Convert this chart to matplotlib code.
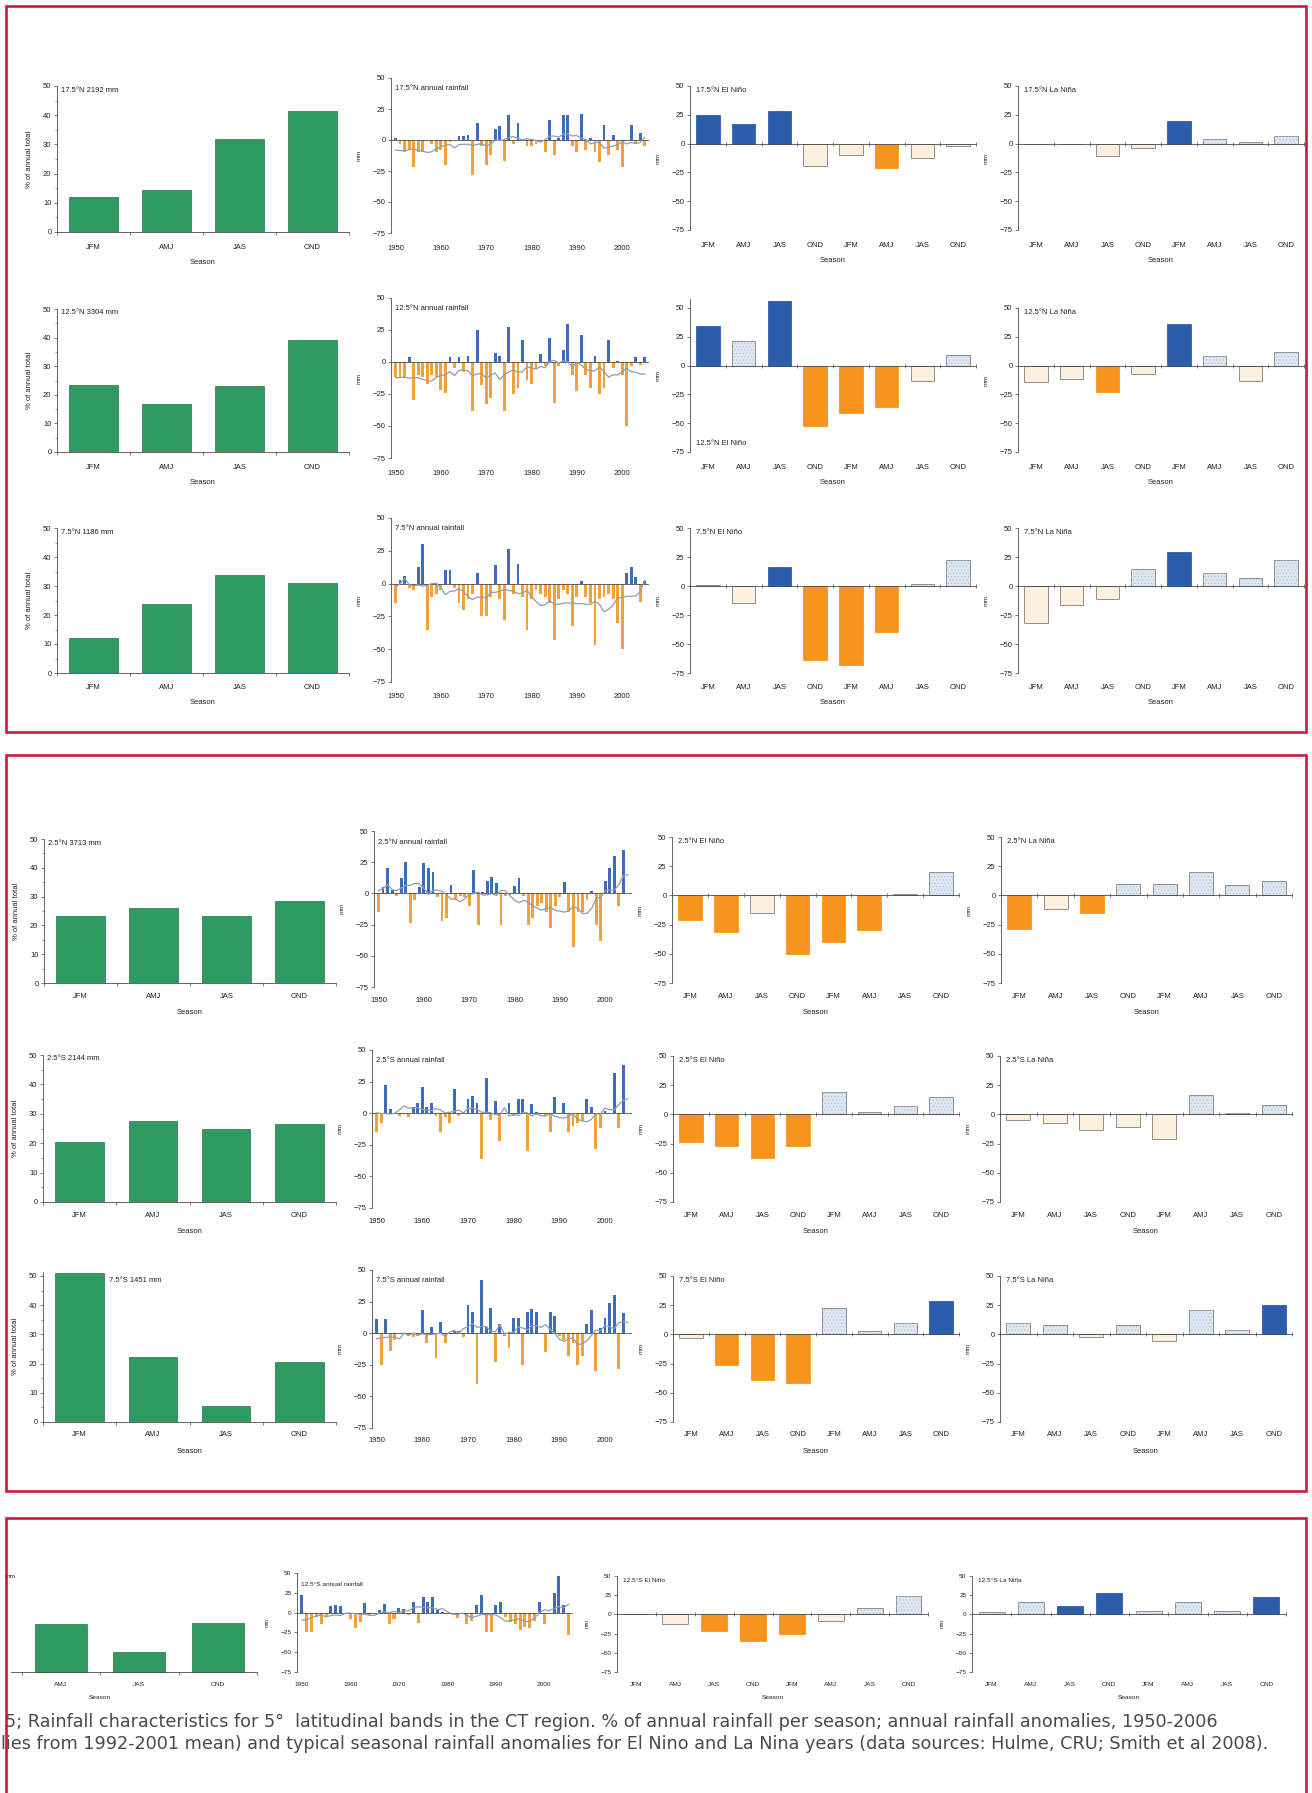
#!/usr/bin/env python
# -*- coding: utf-8 -*-
"""
Rainfall characteristics for 5 degree latitudinal bands
=======================================================
% of annual rainfall per season, annual anomalies 1950-2005 and
typical seasonal anomalies for El Nino / La Nina years.
"""

import numpy as np
import pandas as pd
import matplotlib
matplotlib.use('Agg')
import matplotlib.pyplot as plt
from matplotlib.patches import Rectangle

W, H = 1312, 1793  # output size in pixels

SEASONS = ['JFM', 'AMJ', 'JAS', 'OND']
SEASONS_2YR = SEASONS * 2
YEARS = np.arange(1950, 2006)
YEAR_TICKS = [1950, 1960, 1970, 1980, 1990, 2000]
BANDS = ['17.5°N', '12.5°N', '7.5°N', '2.5°N', '2.5°S', '7.5°S', '12.5°S']
TOTALS = ['2192 mm', '3304 mm', '1186 mm', '3713 mm', '2144 mm', '1451 mm', 'mm']

# % of annual total per season
pct_175N = [12, 14.5, 32, 41.5]
pct_125N = [23.5, 16.8, 23.2, 39]
pct_75N = [12, 23.8, 33.8, 31.2]
pct_25N = [23.3, 26.2, 23.3, 28.6]
pct_25S = [20.4, 27.4, 24.9, 26.4]
pct_75S = [51, 22.3, 5.4, 20.5]
pct_125S = [42, 24, 10, 24.7]

# annual rainfall anomalies (mm), 1950-2005
anom_175N = [2, -3, -10, -8, -22, -10, -10, 0, -3, -10,
             -8, -20, -2, 0, 3, 3, 4, -28, 14, -5,
             -20, -12, 9, 11, -17, 20, -3, 14, 1, -5,
             -5, -3, 0, -10, 16, -12, 2, 20, 20, -5,
             -10, 21, -8, 2, -10, -18, 12, -12, 4, -8,
             -22, 0, 12, -3, 6, -5]
anom_125N = [-12, -12, -12, 4, -30, -10, -12, -17, -10, -12,
             -22, -24, 4, -5, 4, -8, 5, -38, 25, -18,
             -33, -28, 7, 5, -38, 27, -25, -20, 17, -14,
             -17, -5, 6, -3, 19, -32, -3, 9, 30, -10,
             -23, 21, -10, -20, 5, -25, -20, 17, -5, 1,
             -10, -50, -3, 4, -2, 4]
anom_75N = [-15, 3, 6, -3, -5, 13, 30, -35, -10, -8,
            -5, 10, 10, -3, -15, -20, -12, -8, 8, -25,
            -25, -10, 14, -12, -28, 26, -8, 15, -10, -35,
            -12, -5, -8, -10, -15, -43, -12, -5, -8, -32,
            -10, 2, -10, -15, -47, -12, -10, -8, -12, -30,
            -50, 8, 13, 5, -14, 2]
anom_25N = [-15, 5, 20, 3, -2, 12, 25, -24, -5, 5,
            24, 20, 17, -3, -22, -20, 7, -5, -2, -3,
            -10, 19, -25, 1, 10, 13, 8, -25, -2, -1,
            6, 12, -2, -25, -20, -10, -8, -15, -28, -10,
            -3, 9, -15, -43, -15, -15, -5, 2, -25, -38,
            10, 20, 30, -10, 35, 0]
anom_25S = [-15, -8, 22, 3, -1, -2, -1, -3, 5, 8,
            21, 5, 8, -2, -15, -3, -8, 19, -2, -1,
            11, 14, 8, -36, 28, -5, 10, -22, -1, 8,
            -2, 11, 11, -30, 7, 1, -1, -2, -15, 13,
            -1, 8, -15, -10, -8, -6, 11, 5, -28, -12,
            2, 0, 32, -12, 38, 0]
anom_75S = [11, -25, 11, -14, -5, 0, -1, -2, -3, -2,
            18, -8, 5, -20, 9, -8, -1, 2, 2, -3,
            22, 17, -40, 42, 5, 20, -23, 7, -2, -12,
            12, 12, -25, 17, 19, 17, -1, -15, 17, 14,
            -2, -5, -18, -8, -25, -18, 7, 18, -30, 4,
            12, 24, 30, -28, 16, 0]
anom_125S = [22, -25, -25, -5, -15, -5, 8, 10, 8, 0,
             -8, -20, -12, 12, -3, 0, 3, 11, -15, -8,
             6, 5, -3, 14, -13, 20, 14, 20, 3, 1,
             -1, -3, -7, -2, -15, -10, 10, 22, -25, -25,
             10, 14, -5, -12, -15, -22, -18, -20, -10, 14,
             -15, 0, 25, 46, 10, -28]

# seasonal anomalies (mm) for El Nino / La Nina years (year 0 and year +1),
# *_sig: 1 = significant (solid bar), 0 = not significant (pale bar)
nino_175N = [25, 17, 28, -19.5, -10, -21, -12.8, -2]
nino_sig_175N = [1, 1, 1, 0, 0, 1, 0, 0]
nina_175N = [0, 0, -11, -4, 19.3, 4.3, 1.4, 6.5]
nina_sig_175N = [0, 0, 0, 0, 1, 0, 0, 0]

nino_125N = [34, 21, 56, -52, -41, -36, -13, 9.5]
nino_sig_125N = [1, 0, 1, 1, 1, 1, 0, 0]
nina_125N = [-14.5, -12, -23, -7, 36, 8, -13, 11.6]
nina_sig_125N = [0, 0, 1, 0, 1, 0, 0, 0]

nino_75N = [1, -15, 16.5, -64, -68, -40, 2, 22.4]
nino_sig_75N = [0, 0, 1, 1, 1, 1, 0, 0]
nina_75N = [-32, -16, -11, 14.5, 29, 11.6, 7, 22.4]
nina_sig_75N = [0, 0, 0, 0, 1, 0, 0, 0]

nino_25N = [-21, -31, -15, -50, -40, -30, 1.5, 20]
nino_sig_25N = [1, 1, 0, 1, 1, 1, 0, 0]
nina_25N = [-28.5, -12, -15, 10, 10, 20, 9, 12.6]
nina_sig_25N = [1, 0, 1, 0, 0, 0, 0, 0]

nino_25S = [-23.5, -27, -37, -27, 19, 2.4, 7.4, 14.7]
nino_sig_25S = [1, 1, 1, 1, 0, 0, 0, 0]
nina_25S = [-5, -7, -13.5, -11, -21, 16.8, 1, 8]
nina_sig_25S = [0, 0, 0, 0, 0, 0, 0, 0]

nino_75S = [-3.4, -26, -39, -42, 22.7, 2.8, 9.4, 28.4]
nino_sig_75S = [0, 1, 1, 1, 0, 0, 0, 1]
nina_75S = [9.4, 8, -2, 8, -5.7, 20.7, 3.4, 25]
nina_sig_75S = [0, 0, 0, 0, 0, 0, 0, 1]

nino_125S = [0, -13, -21, -34, -25, -8, 8, 24]
nino_sig_125S = [0, 0, 1, 1, 1, 0, 0, 0]
nina_125S = [3, 16, 11, 28, 5, 16, 5, 23]
nina_sig_125S = [0, 0, 1, 1, 0, 0, 0, 1]

# colours
GREEN = '#2E9960'
GREEN_EDGE = '#237548'
BLUE = '#2C5DAA'
ORANGE = '#F7941D'
LIGHT_BLUE = '#DDE7F3'
LIGHT_ORANGE = '#FDF0DC'
LIGHT_EDGE = '#7F7F7F'
ANN_BLUE = '#3D6DB6'
ANN_ORANGE = '#F2A13A'
SMOOTH = '#8E9DB2'
AXIS = '#4A4A4A'
RED = '#C41E3A'
TEXT = '#222222'

# panel boxes in pixels: (left, right, y of the 50 tick, y of the axis bottom)
LAYOUT = [
    dict(pct=(57, 349, 86, 232), ann=(391, 648, 78, 233), nino=(690, 976, 86, 230), nina=(1018, 1304, 86, 230), lab=16, sea=31, fs=1.0),
    dict(pct=(57, 349, 309, 452), ann=(391, 648, 298, 458), nino=(690, 976, 308, 452), nina=(1018, 1304, 308, 452), lab=16, sea=31, fs=1.0),
    dict(pct=(57, 349, 528, 673), ann=(391, 648, 518, 682), nino=(690, 976, 528, 673), nina=(1018, 1304, 528, 673), lab=15, sea=30, fs=1.0),
    dict(pct=(44, 336, 839, 983), ann=(374, 631, 831, 987), nino=(672, 959, 837, 983), nina=(1001, 1292, 837, 983), lab=14, sea=30, fs=1.0),
    dict(pct=(43, 336, 1055, 1202), ann=(372, 631, 1050, 1208), nino=(673, 959, 1056, 1202), nina=(1000, 1292, 1056, 1202), lab=14, sea=30, fs=1.0),
    dict(pct=(43, 336, 1276, 1422), ann=(372, 631, 1270, 1428), nino=(673, 959, 1276, 1422), nina=(1000, 1292, 1276, 1422), lab=13, sea=30, fs=1.0),
    dict(pct=(-57, 257, 1573, 1672), ann=(297, 572, 1573, 1672), nino=(617, 928, 1576, 1672), nina=(972, 1286, 1576, 1672), lab=13, sea=28, fs=0.85),
]

PX = 0.72  # points per pixel at dpi 100
FONT = 5.5
FRAMES = [(6, 6, 1306, 732), (6, 755, 1306, 1491), (6, 1518, 1306, 1810)]


def add_axes_px(fig, left, right, top, bottom):
    """Axes placed by pixel edges (origin top-left)"""
    return fig.add_axes([left / W, 1 - bottom / H, (right - left) / W, (bottom - top) / H])


def base_style(ax, fs):
    for s in ['top', 'right']:
        ax.spines[s].set_visible(False)
    for s in ['left', 'bottom']:
        ax.spines[s].set_color(AXIS)
        ax.spines[s].set_linewidth(0.6)
    ax.tick_params(axis='y', direction='out', length=2.5, width=0.5, color=AXIS,
                   labelsize=FONT * fs, labelcolor=TEXT, pad=1.5)
    ax.patch.set_alpha(0)


def panel_title(ax, text, dx_px, dy_px, fs, y=50):
    ax.annotate(text, xy=(0, y), xycoords=('axes fraction', 'data'),
                xytext=(dx_px * PX, -dy_px * PX), textcoords='offset points',
                ha='left', va='center', fontsize=FONT * fs, color=TEXT)


def bottom_labels(ax, ticks, labels, lay, xlabel=None):
    """Tick labels under the axes box, the zero line stays in the middle"""
    fs = lay['fs']
    half = FONT * fs / PX / 2
    sec = ax.secondary_xaxis('bottom')
    sec.set_xticks(ticks, labels)
    sec.tick_params(length=0, pad=(lay['lab'] - half) * PX, labelsize=FONT * fs, labelcolor=TEXT)
    sec.spines['bottom'].set_visible(False)
    if xlabel:
        sec.set_xlabel(xlabel, fontsize=FONT * fs, color=TEXT,
                       labelpad=(lay['sea'] - lay['lab'] - 2 * half) * PX)


def draw_pct(fig, lay, vals, text, title_dx=4, cut=False):
    l, r, y50, y0 = lay['pct']
    fs = lay['fs']
    ymax = max(50, max(vals) + 0.5)
    scale = (y0 - y50) / 50
    ax = add_axes_px(fig, l, r, y0 - ymax * scale, y0)
    base_style(ax, fs)
    x = np.arange(len(SEASONS))
    bars = ax.bar(x, vals, width=0.66, color=GREEN, edgecolor=GREEN_EDGE, linewidth=0.5, zorder=2)
    ax.set_xlim(-0.5, 3.5)
    ax.set_ylim(0, ymax)
    ax.set_yticks(range(0, 51, 10))
    ax.set_yticks(range(5, 50, 10), minor=True)
    ax.tick_params(axis='y', which='minor', length=1.5, width=0.4, color=AXIS)
    half = FONT * fs / PX / 2
    labels = list(SEASONS)
    if cut:
        labels[0] = ''  # JFM lies off the page
    ax.set_xticks(x, labels)
    ax.set_xticks(np.arange(5) - 0.5, minor=True)
    ax.tick_params(axis='x', which='major', length=0, pad=(lay['lab'] - half) * PX,
                   labelsize=FONT * fs, labelcolor=TEXT)
    ax.tick_params(axis='x', which='minor', length=2.5, width=0.5, color=AXIS, direction='out')
    ax.set_xlabel('Season', fontsize=FONT * fs, color=TEXT,
                  labelpad=(lay['sea'] - lay['lab'] - 2 * half) * PX)
    if cut:
        # this panel runs off the left edge of the page: keep it inside the frame
        ax.tick_params(axis='y', labelleft=False)
        x_in = (FRAMES[2][0] + 5) / W
        clip = Rectangle((x_in, 0), 1 - x_in, 1, transform=fig.transFigure)
        for b in bars:
            b.set_clip_path(clip)
        ax.spines['bottom'].set_clip_path(clip)
    else:
        ax.set_ylabel('% of annual total', fontsize=FONT * fs, color=TEXT, labelpad=7)
    panel_title(ax, text, title_dx, 4, fs)
    return ax


def draw_annual(fig, lay, vals, text):
    l, r, y50, yb = lay['ann']
    fs = lay['fs']
    ax = add_axes_px(fig, l, r, y50, yb)
    base_style(ax, fs)
    vals = np.asarray(vals, dtype=float)
    colors = [ANN_BLUE if v >= 0 else ANN_ORANGE for v in vals]
    ax.bar(YEARS, vals, width=0.62, color=colors, zorder=2)
    # 9-year running mean of the plotted anomalies
    smooth = pd.Series(vals).rolling(9, center=True, min_periods=5).mean()
    ax.plot(YEARS, smooth, color=SMOOTH, linewidth=0.9, zorder=3)
    ax.set_ylim(-75, 50)
    ax.set_xlim(YEARS[0] - 1.0, YEARS[-1] + 0.7)
    ax.set_yticks([-75, -50, -25, 0, 25, 50])
    ax.spines['bottom'].set_position(('data', 0))
    ax.set_xticks([])
    bottom_labels(ax, YEAR_TICKS, [str(y) for y in YEAR_TICKS], lay)
    ax.set_ylabel('mm', fontsize=FONT * fs * 0.85, color=TEXT, labelpad=8)
    panel_title(ax, text, 4, 11, fs)
    return ax


def draw_enso(fig, lay, key, vals, sig, text, ymax=50, title_y=50, title_dy=4):
    l, r, y50, yb = lay[key]
    fs = lay['fs']
    scale = (yb - y50) / 125
    ax = add_axes_px(fig, l, r, y50 - (ymax - 50) * scale, yb)
    base_style(ax, fs)
    vals = np.asarray(vals, dtype=float)
    sig = np.asarray(sig, dtype=bool)
    pos = vals >= 0
    face, edge = [], []
    for p, s in zip(pos, sig):
        if s:
            c = BLUE if p else ORANGE
            face.append(c)
            edge.append(c)
        else:
            face.append(LIGHT_BLUE if p else LIGHT_ORANGE)
            edge.append(LIGHT_EDGE)
    x = np.arange(len(SEASONS_2YR))
    ax.bar(x, vals, width=0.66, color=face, edgecolor=edge, linewidth=0.6, zorder=2)
    dotted = (~sig) & pos
    ax.bar(x[dotted], vals[dotted], width=0.66, color='none', edgecolor='#B4C0CF',
           hatch='.....', linewidth=0, zorder=2.5)
    ax.set_xlim(-0.5, 7.5)
    ax.set_ylim(-75, ymax)
    ax.set_yticks([-75, -50, -25, 0, 25, 50])
    ax.spines['bottom'].set_position(('data', 0))
    ax.set_xticks([])
    ax.set_xticks(np.arange(9) - 0.5, minor=True)
    ax.tick_params(axis='x', which='minor', length=3, width=0.5, color=AXIS, direction='inout')
    bottom_labels(ax, x, SEASONS_2YR, lay, xlabel='Season')
    ax.set_ylabel('mm', fontsize=FONT * fs * 0.85, color=TEXT, labelpad=8)
    panel_title(ax, text, 6, title_dy, fs, y=title_y)
    return ax


def draw_frames(fig):
    """Red frames round the three figure blocks"""
    for x0, y0, x1, y1 in FRAMES:
        fig.add_artist(Rectangle((x0 / W, 1 - y1 / H), (x1 - x0) / W, (y1 - y0) / H,
                                 transform=fig.transFigure, fill=False,
                                 edgecolor=RED, linewidth=1.9, zorder=10))


def main():
    plt.rcParams['font.family'] = ['Liberation Sans', 'DejaVu Sans']
    plt.rcParams['hatch.linewidth'] = 0.4

    fig = plt.figure(figsize=(W / 100, H / 100), dpi=100)
    fig.patch.set_facecolor('white')

    pct = [pct_175N, pct_125N, pct_75N, pct_25N, pct_25S, pct_75S, pct_125S]
    anom = [anom_175N, anom_125N, anom_75N, anom_25N, anom_25S, anom_75S, anom_125S]
    nino = [nino_175N, nino_125N, nino_75N, nino_25N, nino_25S, nino_75S, nino_125S]
    nino_sig = [nino_sig_175N, nino_sig_125N, nino_sig_75N, nino_sig_25N,
                nino_sig_25S, nino_sig_75S, nino_sig_125S]
    nina = [nina_175N, nina_125N, nina_75N, nina_25N, nina_25S, nina_75S, nina_125S]
    nina_sig = [nina_sig_175N, nina_sig_125N, nina_sig_75N, nina_sig_25N,
                nina_sig_25S, nina_sig_75S, nina_sig_125S]

    for i, lay in enumerate(LAYOUT):
        band = BANDS[i]

        # 1. share of annual rainfall per season
        if i == 6:
            # left part of this panel is cut off, only the end of its label shows
            draw_pct(fig, lay, pct[i], TOTALS[i], title_dx=62, cut=True)
        elif i == 5:
            draw_pct(fig, lay, pct[i], f'{band} {TOTALS[i]}', title_dx=66)
        else:
            draw_pct(fig, lay, pct[i], f'{band} {TOTALS[i]}')

        # 2. annual anomalies
        draw_annual(fig, lay, anom[i], f'{band} annual rainfall')

        # 3. El Nino / La Nina
        if i == 1:
            draw_enso(fig, lay, 'nino', nino[i], nino_sig[i], f'{band} El Niño',
                      ymax=58, title_y=-68, title_dy=0)
        else:
            draw_enso(fig, lay, 'nino', nino[i], nino_sig[i], f'{band} El Niño')
        draw_enso(fig, lay, 'nina', nina[i], nina_sig[i], f'{band} La Niña')

    draw_frames(fig)

    cap1 = ('5; Rainfall characteristics for 5°  latitudinal bands in the CT region. '
            '% of annual rainfall per season; annual rainfall anomalies, 1950-2006')
    cap2 = ('lies from 1992-2001 mean) and typical seasonal rainfall anomalies for El Nino '
            'and La Nina years (data sources: Hulme, CRU; Smith et al 2008).')
    fig.text(5 / W, 1 - 1722 / H, cap1, ha='left', va='center', fontsize=12.7,
             family='DejaVu Sans', color='#4A4A4A')
    fig.text(1 / W, 1 - 1744 / H, cap2, ha='left', va='center', fontsize=12.7,
             family='DejaVu Sans', color='#4A4A4A')

    fig.savefig('out.png', dpi=100)
    print('[+] saved out.png')


if __name__ == '__main__':
    main()
